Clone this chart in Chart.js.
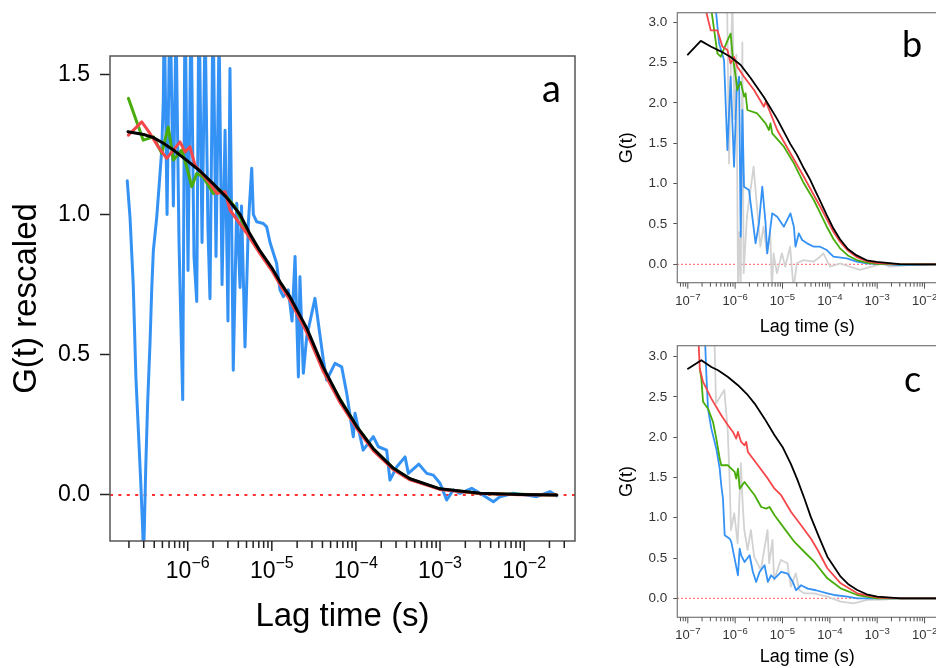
<!DOCTYPE html>
<html><head><meta charset="utf-8">
<script src="https://cdn.jsdelivr.net/npm/chart.js@4.4.1/dist/chart.umd.min.js"></script>
<style>
html,body{margin:0;padding:0;overflow:hidden;background:#fff;width:936px;height:668px;position:relative;}
canvas{position:absolute;}
#ca{left:0;top:0;}
#cb{left:600px;top:0;}
#cc{left:600px;top:330px;}
</style></head><body>
<canvas id="ca" width="600" height="668"></canvas>
<canvas id="cb" width="340" height="345"></canvas>
<canvas id="cc" width="340" height="338"></canvas>
<script>
// ---------- Panel a (rescaled) ----------
const aBlackT = [1.95e-7,3.0e-7,3.86e-7,5.08e-7,6.75e-7,1.0e-6,1.40e-6,2.0e-6,2.91e-6,4.19e-6,5.51e-6,7.24e-6,1.0e-5,1.25e-5,1.64e-5,2.60e-5,4.10e-5,6.47e-5,1.02e-4,1.61e-4,2.79e-4,4.40e-4,1.0e-3,2.99e-3,8.94e-3,2.44e-2];
const aBlackG = [1.295,1.285,1.275,1.255,1.23,1.19,1.155,1.11,1.06,1.0,0.93,0.87,0.81,0.76,0.707,0.595,0.455,0.34,0.245,0.165,0.095,0.058,0.022,0.006,0.002,0.0];
const aRedT = [1.97e-7,2.84e-7,3.56e-7,4.47e-7,5.63e-7,8.10e-7,9.29e-7,1.065e-6,1.22e-6,1.84e-6,2.21e-6,2.78e-6,3.18e-6,5.03e-6,7.24e-6,1.0e-5,1.25e-5,1.64e-5,2.6e-5,4.1e-5,6.47e-5,1.02e-4,1.61e-4,2.79e-4,4.4e-4,1.0e-3,2.99e-3,8.94e-3,2.44e-2];
const aRedG = [1.283,1.33,1.289,1.241,1.2,1.259,1.223,1.241,1.176,1.111,1.075,1.081,1.016,0.933,0.86,0.80,0.75,0.695,0.58,0.44,0.33,0.238,0.158,0.09,0.054,0.02,0.005,0.001,0.0];
const aGreenT = [1.97e-7,2.96e-7,3.90e-7,4.91e-7,5.87e-7,6.75e-7,8.49e-7,9.73e-7,1.116e-6,1.28e-6,1.53e-6,2.02e-6,2.42e-6,2.91e-6,3.65e-6,4.58e-6,5.03e-6,7.24e-6,1.0e-5,1.64e-5,2.6e-5,4.1e-5,6.47e-5,1.02e-4,1.61e-4,2.79e-4,4.4e-4,1.0e-3,2.99e-3,2.44e-2];
const aGreenG = [1.414,1.265,1.277,1.218,1.312,1.194,1.23,1.17,1.099,1.146,1.134,1.075,1.087,1.063,1.027,0.968,0.944,0.865,0.805,0.70,0.59,0.447,0.342,0.245,0.165,0.095,0.057,0.021,0.005,0.0];
const aBlueT = [1.91e-7,2.06e-7,2.25e-7,2.42e-7,2.58e-7,2.76e-7,2.92e-7,2.98e-7,3.05e-7,3.17e-7,3.34e-7,3.56e-7,3.73e-7,3.90e-7,4.28e-7,4.59e-7,4.91e-7,5.13e-7,5.25e-7,5.68e-7,6.16e-7,6.75e-7,7.26e-7,7.88e-7,8.72e-7,9.29e-7,1.008e-6,1.094e-6,1.188e-6,1.28e-6,1.36e-6,1.48e-6,1.61e-6,1.74e-6,1.84e-6,2.0e-6,2.17e-6,2.36e-6,2.56e-6,2.78e-6,3.01e-6,3.18e-6,3.48e-6,3.83e-6,4.19e-6,4.36e-6,4.58e-6,4.80e-6,5.26e-6,5.77e-6,6.03e-6,6.61e-6,7.93e-6,8.69e-6,9.52e-6,1.14e-5,1.25e-5,1.37e-5,1.57e-5,1.74e-5,1.89e-5,1.98e-5,2.07e-5,2.16e-5,2.27e-5,2.37e-5,2.60e-5,3.26e-5,4.10e-5,4.49e-5,5.64e-5,6.77e-5,7.78e-5,9.31e-5,9.75e-5,1.22e-4,1.61e-4,1.85e-4,2.32e-4,2.54e-4,3.05e-4,3.84e-4,4.20e-4,5.6e-4,6.95e-4,8.32e-4,1.0e-3,1.20e-3,1.44e-3,1.73e-3,2.38e-3,2.99e-3,4.31e-3,5.17e-3,7.44e-3,1.07e-2,1.41e-2,2.03e-2,2.44e-2];
const aBlueG = [1.12,0.99,0.75,0.42,0.24,0.05,-0.13,-0.22,-0.12,0.10,0.33,0.54,0.73,0.87,0.99,1.11,1.23,1.41,1.75,1.0,1.8,1.03,1.7,0.9,0.34,1.8,0.8,1.75,0.85,0.69,1.8,0.9,1.7,0.95,0.7,1.75,0.85,1.65,0.75,1.3,0.62,1.52,0.445,1.04,0.74,1.03,0.778,0.528,0.968,1.165,1.0,0.974,0.968,0.956,0.90,0.826,0.731,0.707,0.731,0.62,0.85,0.624,0.421,0.778,0.588,0.434,0.564,0.701,0.481,0.41,0.469,0.457,0.362,0.208,0.291,0.16,0.208,0.172,0.16,0.053,0.1,0.136,0.077,0.11,0.077,0.071,0.042,-0.018,0.018,0.006,0.024,0.006,-0.024,-0.006,0.006,0.0,-0.006,0.012,-0.003];
const aYTicks = [0.0, 0.5, 1.0, 1.5];
const aXExp = [-6, -5, -4, -3, -2];

// ---------- Panel b ----------
const bBlackT = [1.0e-7,1.88e-7,3.05e-7,4.95e-7,8.04e-7,1.31e-6,2.12e-6,4.06e-6,7.73e-6,1.47e-5,2.01e-5,2.82e-5,3.83e-5,4.58e-5,6.2e-5,8.61e-5,1.2e-4,1.64e-4,2.4e-4,3.68e-4,6.0e-4,9.7e-4,3.0e-3,1.0e-2,2.0e-2];
const bBlackG = [2.60,2.77,2.70,2.64,2.57,2.47,2.31,2.07,1.80,1.49,1.36,1.19,1.05,0.95,0.79,0.61,0.44,0.31,0.19,0.11,0.05,0.03,0.003,0.0,0.0];
const bRedT = [2.2e-7,2.4e-7,3.05e-7,4.22e-7,5.37e-7,6.86e-7,8.04e-7,9.5e-7,1.11e-6,1.54e-6,2.50e-6,4.06e-6,4.45e-6,7.73e-6,1.47e-5,2.82e-5,4.58e-5,6.2e-5,8.61e-5,1.2e-4,1.64e-4,2.4e-4,3.68e-4,6.0e-4,9.7e-4,3e-3,1e-2,2e-2];
const bRedG = [3.4,3.15,2.90,2.90,2.70,2.657,2.49,2.57,2.45,2.326,2.16,1.954,2.016,1.665,1.376,1.086,0.859,0.72,0.56,0.40,0.28,0.17,0.09,0.04,0.015,0.002,0.0,0.0];
const bGreenT = [2.9e-7,4.22e-7,4.95e-7,6.31e-7,7.45e-7,8.04e-7,8.73e-7,1.026e-6,1.11e-6,1.31e-6,1.54e-6,1.66e-6,1.81e-6,2.93e-6,4.39e-6,5.18e-6,5.58e-6,6.06e-6,1.07e-5,1.74e-5,2.82e-5,4.58e-5,6.2e-5,8.61e-5,1.2e-4,1.64e-4,2.4e-4,3.68e-4,6.0e-4,9.7e-4,3e-3,2e-2];
const bGreenG = [3.3,2.616,2.573,2.72,2.82,2.86,2.616,2.326,2.16,2.263,2.078,2.12,1.913,1.87,1.748,1.665,1.748,1.624,1.458,1.252,1.004,0.797,0.64,0.466,0.31,0.198,0.11,0.053,0.02,0.006,0.0,0.0];
const bBlueT = [3.7e-7,4.57e-7,5.83e-7,6.86e-7,8.04e-7,9.48e-7,1.076e-6,1.21e-6,1.31e-6,1.42e-6,1.54e-6,1.96e-6,2.30e-6,2.70e-6,3.18e-6,3.74e-6,4.39e-6,4.76e-6,6.06e-6,7.73e-6,1.07e-5,1.47e-5,1.74e-5,1.88e-5,2.21e-5,2.60e-5,3.31e-5,4.58e-5,6.22e-5,8.61e-5,1.19e-4,2.27e-4,3.68e-4,6.0e-4,3.0e-3,6.2e-3,2.0e-2];
const bBlueG = [3.3,2.74,2.53,1.417,2.326,1.21,2.16,2.326,0.342,1.913,0.962,0.921,0.59,0.26,0.508,0.962,0.508,0.136,0.632,0.59,0.466,0.632,0.466,0.218,0.384,0.301,0.26,0.218,0.218,0.177,0.094,0.074,0.032,0.012,-0.01,-0.01,0.0];
const bGrayT = [6.74e-7,7.44e-7,7.93e-7,8.73e-7,9.62e-7,1.06e-6,1.15e-6,1.23e-6,1.31e-6,1.42e-6,1.51e-6,1.78e-6,2.09e-6,2.45e-6,2.89e-6,3.40e-6,3.98e-6,4.69e-6,5.51e-6,5.98e-6,6.47e-6,7.62e-6,9.71e-6,1.14e-5,1.45e-5,1.71e-5,2.01e-5,2.77e-5,4.50e-5,6.22e-5,7.30e-5,8.61e-5,1.01e-4,1.64e-4,2.66e-4,4.33e-4,1.34e-3,1.85e-3,7.93e-3,2.0e-2];
const bGrayG = [3.3,1.25,2.2,3.3,1.8,2.6,-0.3,0.4,-0.3,2.75,-0.11,0.6,0.9,1.21,0.714,0.218,0.466,0.136,0.384,-0.3,0.136,-0.11,0.136,-0.03,0.218,-0.3,0.012,0.053,0.032,0.094,0.136,0.053,-0.03,0.012,-0.03,-0.07,0.012,-0.03,0.0,0.0];

// ---------- Panel c ----------
const cBlackT = [1.01e-7,1.93e-7,3.14e-7,4.35e-7,7.05e-7,1.146e-6,1.86e-6,2.58e-6,4.18e-6,6.79e-6,1.0e-5,1.5e-5,2.07e-5,2.9e-5,3.94e-5,6.0e-5,8.85e-5,1.69e-4,2.5e-4,3.79e-4,6.0e-4,1.0e-3,3.16e-3,1e-2,2e-2];
const cBlackG = [2.85,2.957,2.873,2.832,2.749,2.646,2.522,2.418,2.231,2.025,1.88,1.67,1.47,1.24,1.014,0.75,0.517,0.268,0.17,0.103,0.05,0.02,0.0,0.0,0.0];
const cRedT = [1.65e-7,1.79e-7,2.10e-7,3.14e-7,5.09e-7,7.05e-7,8.99e-7,1.054e-6,1.146e-6,1.34e-6,1.58e-6,1.71e-6,1.86e-6,3.02e-6,4.91e-6,6.79e-6,9.35e-6,1.52e-5,2.47e-5,4.0e-5,5.53e-5,8.85e-5,1.69e-4,3.79e-4,1.0e-3,3.16e-3,2e-2];
const cRedG = [3.3,2.85,2.687,2.48,2.273,2.15,2.066,1.983,2.066,1.942,1.90,1.942,1.817,1.652,1.486,1.362,1.28,1.072,0.907,0.74,0.60,0.373,0.186,0.062,0.01,0.0,0.0];
const cGreenT = [1.79e-7,1.93e-7,2.10e-7,2.67e-7,3.41e-7,4.0e-7,4.72e-7,5.09e-7,7.05e-7,9.75e-7,1.054e-6,1.146e-6,1.245e-6,1.58e-6,2.58e-6,3.55e-6,4.52e-6,5.32e-6,6.79e-6,1.10e-5,1.79e-5,2.90e-5,4.72e-5,8.85e-5,1.69e-4,3.79e-4,1.0e-3,2e-2];
const cGreenG = [2.85,2.73,2.44,2.355,2.19,1.983,1.734,1.652,1.652,1.569,1.486,1.61,1.362,1.445,1.28,1.134,1.113,1.134,1.031,0.865,0.70,0.575,0.451,0.248,0.124,0.041,0.0,0.0];
const cBlueT = [2.28e-7,2.47e-7,2.67e-7,3.14e-7,4.0e-7,4.72e-7,5.09e-7,5.53e-7,6.01e-7,7.66e-7,8.28e-7,9.75e-7,1.146e-6,1.245e-6,1.34e-6,1.58e-6,2.02e-6,2.37e-6,2.78e-6,3.28e-6,4.18e-6,4.91e-6,5.75e-6,6.79e-6,9.35e-6,1.29e-5,1.65e-5,1.93e-5,2.47e-5,3.41e-5,5.09e-5,8.85e-5,1.22e-4,2.33e-4,3.79e-4,1e-3,2e-2];
const cBlueG = [3.3,2.77,2.355,2.107,1.858,1.61,1.404,1.237,0.783,0.74,0.70,0.492,0.286,0.616,0.534,0.451,0.534,0.327,0.203,0.327,0.41,0.203,0.286,0.244,0.327,0.306,0.203,0.1,0.162,0.12,0.1,0.062,0.041,0.02,0.0,0.0,0.0];
const cGrayT = [3.63e-7,3.94e-7,5.9e-7,6.95e-7,7.52e-7,8.17e-7,9.57e-7,1.13e-6,1.32e-6,1.44e-6,1.56e-6,1.83e-6,2.15e-6,2.52e-6,3.49e-6,4.83e-6,5.22e-6,6.15e-6,6.65e-6,9.2e-6,1.27e-5,1.50e-5,1.91e-5,2.24e-5,2.85e-5,4.62e-5,8.85e-5,1.69e-4,3.21e-4,6.15e-4,1.38e-3,3.09e-3,2e-2];
const cGrayG = [3.3,2.42,2.588,2.09,1.594,0.848,1.056,0.683,1.677,1.18,0.848,0.6,0.848,0.517,0.351,0.848,0.435,0.724,0.227,0.476,0.435,0.144,0.31,0.103,0.062,0.062,0.02,-0.042,-0.062,-0.02,-0.017,0.0,0.0];

const bcYTicks = [0.0, 0.5, 1.0, 1.5, 2.0, 2.5, 3.0];
const bcXExp = [-7, -6, -5, -4, -3, -2];

const FONT = "'Liberation Sans', Arial, Helvetica, sans-serif";
const COL = { black: '#000000', red: '#f5474a', green: '#48ac0a', blue: '#3592f5', gray: '#d2d2d2' };

function pts(T, G) { return T.map((t, i) => ({ x: t, y: G[i] })); }

const rFrame = {
  id: 'rframe',
  beforeDatasetsDraw(chart, args, o) {
    const { ctx, chartArea: ca, scales } = chart;
    const y0 = scales.y.getPixelForValue(0);
    ctx.save();
    ctx.strokeStyle = o.zeroColor; ctx.lineWidth = o.zeroWidth; ctx.setLineDash(o.zeroDash);
    ctx.beginPath(); ctx.moveTo(ca.left, y0); ctx.lineTo(ca.right, y0); ctx.stroke();
    ctx.restore();
  },
  afterDraw(chart, args, o) {
    const { ctx, chartArea: ca, scales: { x } } = chart;
    ctx.save();
    ctx.strokeStyle = o.boxColor; ctx.lineWidth = o.boxWidth;
    ctx.strokeRect(ca.left, ca.top, ca.right - ca.left, ca.bottom - ca.top);
    ctx.strokeStyle = o.tickColor; ctx.lineWidth = o.tickWidth;
    const lo = Math.floor(Math.log10(x.min)), hi = Math.ceil(Math.log10(x.max));
    ctx.beginPath();
    for (let d = lo; d <= hi; d++) {
      for (let m = 1; m <= 9; m++) {
        const v = m * Math.pow(10, d);
        if (v < x.min || v > x.max) continue;
        const px = x.getPixelForValue(v);
        if (px > ca.right - 1 || px < ca.left + 1) continue;
        const len = m === 1 ? o.majorLen : o.minorLen;
        ctx.moveTo(px, ca.bottom); ctx.lineTo(px, ca.bottom + len);
      }
    }
    ctx.stroke();
    ctx.fillStyle = o.labelColor; ctx.textBaseline = 'alphabetic'; ctx.textAlign = 'left';
    const mainF = o.labelSize + 'px ' + FONT, supF = o.supSize + 'px ' + FONT;
    o.exps.forEach(e => {
      const px = x.getPixelForValue(Math.pow(10, e));
      const sup = '\u2212' + Math.abs(e);
      ctx.font = mainF; const w1 = ctx.measureText('10').width;
      ctx.font = supF; const w2 = ctx.measureText(sup).width;
      const x0 = px - (w1 + w2) / 2;
      const base = ca.bottom + o.labelBase;
      ctx.font = mainF; ctx.fillText('10', x0, base);
      ctx.font = supF; ctx.fillText(sup, x0 + w1, base - o.supRaise);
    });
    ctx.fillStyle = '#000';
    ctx.font = o.letter.font;
    ctx.fillText(o.letter.text, o.letter.x, o.letter.y);
    ctx.restore();
  }
};

function makeChart(id, p) {
  return new Chart(document.getElementById(id), {
    type: 'line',
    data: { datasets: p.series.map(s => ({
      data: pts(s.t, s.g), borderColor: s.color, borderWidth: s.width,
      pointRadius: 0, fill: false, tension: 0, clip: 0,
      borderJoinStyle: 'round', borderCapStyle: 'round'
    })) },
    options: {
      responsive: false, animation: false, devicePixelRatio: 1,
      layout: { padding: p.pad, autoPadding: false },
      plugins: { legend: { display: false }, tooltip: { enabled: false }, rframe: p.frame },
      scales: {
        x: {
          type: 'logarithmic', min: p.xMin, max: p.xMax,
          afterFit: s => { s.height = p.xH; s.paddingLeft = 0; s.paddingRight = 0; s.paddingTop = 0; s.paddingBottom = 0; },
          ticks: { display: false }, grid: { display: false }, border: { display: false },
          title: { display: true, text: 'Lag time (s)', color: '#000', font: { family: FONT, size: p.xTitleSize }, padding: { top: 0, bottom: p.xTitlePad } }
        },
        y: {
          min: p.yMin, max: p.yMax,
          afterBuildTicks: s => { s.ticks = p.yTicks.map(v => ({ value: v })); },
          afterFit: s => { s.width = p.yW; s.paddingTop = 0; s.paddingBottom = 0; s.paddingLeft = 0; s.paddingRight = 0; },
          ticks: { callback: v => Number(v).toFixed(1), color: p.yLabelColor, font: { family: FONT, size: p.yLabelSize }, padding: p.yLabelPad },
          grid: { drawOnChartArea: false, drawTicks: true, tickLength: p.yTickLen, tickColor: p.frame.tickColor, tickWidth: p.frame.tickWidth },
          border: { display: false },
          title: { display: true, text: p.yTitle, color: '#000', font: { family: FONT, size: p.yTitleSize }, padding: { top: p.yTitlePad, bottom: 0 } }
        }
      }
    },
    plugins: [rFrame]
  });
}

makeChart('ca', {
  series: [
    { t: aBlackT, g: aBlackG, color: COL.black, width: 3 },
    { t: aRedT, g: aRedG, color: COL.red, width: 3 },
    { t: aGreenT, g: aGreenG, color: COL.green, width: 3 },
    { t: aBlueT, g: aBlueG, color: COL.blue, width: 3 }
  ],
  pad: { top: 56, right: 25, left: 0, bottom: 0 },
  xMin: 1.191e-7, xMax: 0.04027, yMin: -0.164, yMax: 1.565,
  yTicks: aYTicks, xH: 127, yW: 110,
  xTitleSize: 33, xTitlePad: 31, yTitle: 'G(t) rescaled', yTitleSize: 33, yTitlePad: 7,
  yLabelSize: 23, yLabelPad: 10, yLabelColor: '#000', yTickLen: 10,
  frame: { zeroColor: '#ff3030', zeroWidth: 2, zeroDash: [3, 5.4], boxColor: '#555', boxWidth: 1.5,
    tickColor: '#222', tickWidth: 1.5, majorLen: 10, minorLen: 7, labelColor: '#000',
    labelSize: 23, supSize: 16, labelBase: 37.3, supRaise: 10, exps: aXExp,
    letter: { text: 'a', x: 542, y: 101.5, font: "38px Lato, 'Liberation Sans', sans-serif" } }
});

const bcFrame = (letter) => ({ zeroColor: '#ff5050', zeroWidth: 1.2, zeroDash: [1.5, 2.5], boxColor: '#777', boxWidth: 1.2,
  tickColor: '#555', tickWidth: 1, majorLen: 6, minorLen: 4, labelColor: '#333',
  labelSize: 13, supSize: 9.5, labelBase: 22, supRaise: 5, exps: bcXExp, letter });

makeChart('cb', {
  series: [
    { t: bBlackT, g: bBlackG, color: COL.black, width: 1.8 },
    { t: bRedT, g: bRedG, color: COL.red, width: 1.8 },
    { t: bGreenT, g: bGreenG, color: COL.green, width: 1.8 },
    { t: bBlueT, g: bBlueG, color: COL.blue, width: 1.8 },
    { t: bGrayT, g: bGrayG, color: COL.gray, width: 1.8 }
  ],
  pad: { top: 12.7, right: 3, left: 0, bottom: 0 },
  xMin: 6.25e-8, xMax: 0.01832, yMin: -0.228, yMax: 3.119,
  yTicks: bcYTicks, xH: 62.3, yW: 77.3,
  xTitleSize: 18, xTitlePad: 7.4, yTitle: 'G(t)', yTitleSize: 18, yTitlePad: 16,
  yLabelSize: 13.5, yLabelPad: 6, yLabelColor: '#333', yTickLen: 4,
  frame: bcFrame({ text: 'b', x: 302, y: 56.5, font: "36px Lato, 'Liberation Sans', sans-serif" })
});

makeChart('cc', {
  series: [
    { t: cBlackT, g: cBlackG, color: COL.black, width: 1.8 },
    { t: cRedT, g: cRedG, color: COL.red, width: 1.8 },
    { t: cGreenT, g: cGreenG, color: COL.green, width: 1.8 },
    { t: cBlueT, g: cBlueG, color: COL.blue, width: 1.8 },
    { t: cGrayT, g: cGrayG, color: COL.gray, width: 1.8 }
  ],
  pad: { top: 15.7, right: 3, left: 0, bottom: 0 },
  xMin: 6.25e-8, xMax: 0.01832, yMin: -0.236, yMax: 3.137,
  yTicks: bcYTicks, xH: 50.7, yW: 77.3,
  xTitleSize: 18, xTitlePad: 0.2, yTitle: 'G(t)', yTitleSize: 18, yTitlePad: 16,
  yLabelSize: 13.5, yLabelPad: 6, yLabelColor: '#333', yTickLen: 4,
  frame: bcFrame({ text: 'c', x: 304, y: 61.5, font: "36px Lato, 'Liberation Sans', sans-serif" })
});
</script></body></html>
